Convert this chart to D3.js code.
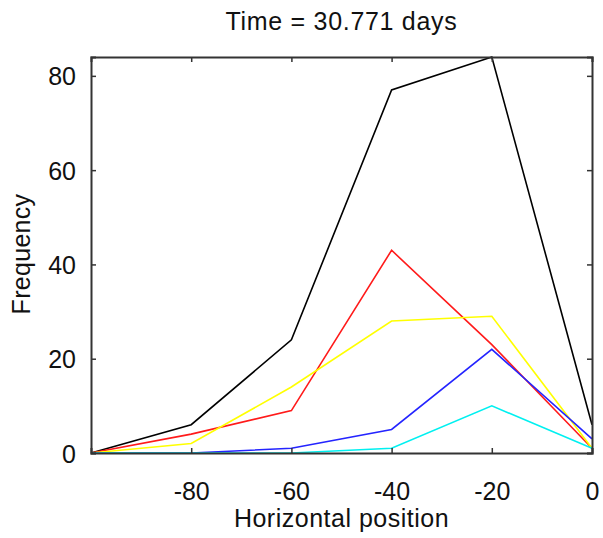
<!DOCTYPE html>
<html>
<head>
<meta charset="utf-8">
<script src="https://cdn.jsdelivr.net/npm/d3@7"></script>
<style>
  html, body { margin: 0; padding: 0; background: #fff; }
  svg { display: block; }
  text { font-family: "Liberation Sans", Arial, sans-serif; fill: #111; }
</style>
</head>
<body>
<svg id="chart" width="603" height="538"></svg>
<script>
// Bin centres along the horizontal axis
const positions = [-100, -80, -60, -40, -20, 0];

// Frequency counts per bin, one array per series
const totalCounts  = [0, 6, 24, 77, 84, 6];
const redCounts    = [0, 4, 9, 43, 23, 1];
const yellowCounts = [0, 2, 14, 28, 29, 1];
const blueCounts   = [0, 0, 1, 5, 22, 3];
const cyanCounts   = [0, 0, 0, 1, 10, 1];

const xTicks = [-80, -60, -40, -20, 0];
const yTicks = [0, 20, 40, 60, 80];

const titleText = "Time = 30.771 days";
const xLabel = "Horizontal position";
const yLabel = "Frequency";

const series = [
  { values: totalCounts,  color: "#000000" },
  { values: redCounts,    color: "#ff1a1a" },
  { values: yellowCounts, color: "#ffff00" },
  { values: blueCounts,   color: "#2424ff" },
  { values: cyanCounts,   color: "#00f0f0" }
];

const svg = d3.select("#chart");
const plotLeft = 91, plotRight = 592, plotTop = 57, plotBottom = 453;

const x = d3.scaleLinear().domain([-100, 0]).range([plotLeft, plotRight]);
const y = d3.scaleLinear().domain([0, 84]).range([plotBottom, plotTop]);

const frameColor = "#333";
const tickLen = 5;
const tickFont = 25;
const plainNumber = d => String(d);

// Data lines
const line = d3.line()
  .x((d, i) => x(positions[i]))
  .y(d => y(d));

svg.append("g").selectAll("path")
  .data(series)
  .join("path")
  .attr("d", s => line(s.values))
  .attr("fill", "none")
  .attr("stroke", s => s.color)
  .attr("stroke-width", 1.6)
  .attr("stroke-linejoin", "miter");

// Axes (ticks point into the plot area, mirrored on opposite sides)
const gx = svg.append("g")
  .attr("transform", `translate(0,${plotBottom})`)
  .call(d3.axisBottom(x).tickValues(xTicks).tickSize(-tickLen).tickPadding(29).tickFormat(plainNumber));
const gxTop = svg.append("g")
  .attr("transform", `translate(0,${plotTop})`)
  .call(d3.axisTop(x).tickValues(xTicks).tickSize(-tickLen).tickFormat(""));
const gy = svg.append("g")
  .attr("transform", `translate(${plotLeft},0)`)
  .call(d3.axisLeft(y).tickValues(yTicks).tickSize(-tickLen).tickPadding(15).tickFormat(plainNumber));
const gyRight = svg.append("g")
  .attr("transform", `translate(${plotRight},0)`)
  .call(d3.axisRight(y).tickValues(yTicks).tickSize(-tickLen).tickFormat(""));

[gx, gxTop, gy, gyRight].forEach(g => {
  g.select(".domain").attr("stroke", frameColor).attr("stroke-width", 2);
  g.selectAll(".tick line").attr("stroke", frameColor).attr("stroke-width", 1.5);
  g.selectAll(".tick text")
    .attr("font-family", "Liberation Sans, Arial, sans-serif")
    .attr("font-size", tickFont)
    .attr("fill", "#111");
});
gy.selectAll(".tick text").attr("dy", "0.36em");

// Title and axis labels
svg.append("text")
  .attr("x", (plotLeft + plotRight) / 2)
  .attr("y", 30)
  .attr("text-anchor", "middle")
  .attr("font-size", 25)
  .attr("letter-spacing", 0.7)
  .text(titleText);

svg.append("text")
  .attr("x", (plotLeft + plotRight) / 2)
  .attr("y", 527)
  .attr("text-anchor", "middle")
  .attr("font-size", 25)
  .attr("letter-spacing", 0.5)
  .text(xLabel);

svg.append("text")
  .attr("transform", `translate(30,254) rotate(-90)`)
  .attr("text-anchor", "middle")
  .attr("font-size", 25)
  .attr("letter-spacing", 0.3)
  .text(yLabel);
</script>
</body>
</html>
